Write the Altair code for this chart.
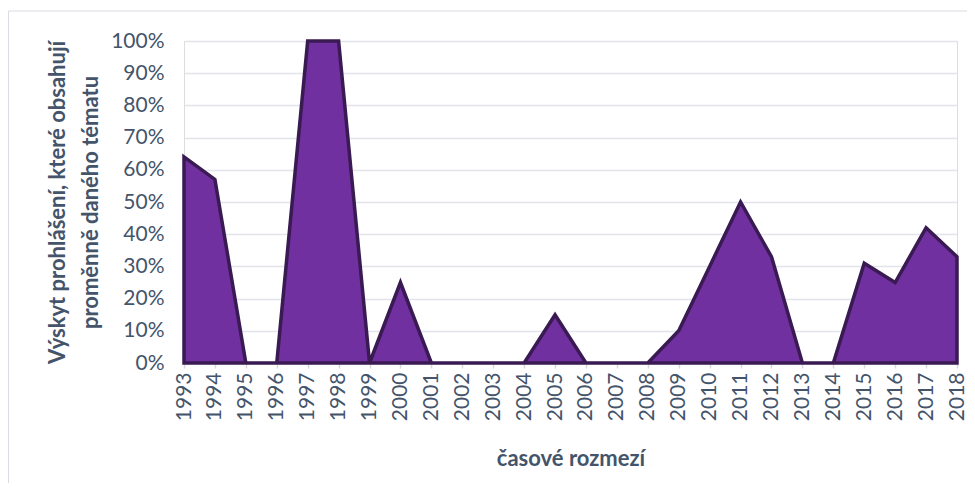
import altair as alt
import pandas as pd

years = list(range(1993, 2019))
shares = [0.64, 0.57, 0.0, 0.0, 1.0, 1.0, 0.0, 0.25, 0.0, 0.0, 0.0, 0.0, 0.15,
          0.0, 0.0, 0.0, 0.10, 0.30, 0.50, 0.33, 0.0, 0.0, 0.31, 0.25, 0.42, 0.33]
y_ticks = [i / 10 for i in range(11)]

df = pd.DataFrame({"rok": years, "podil": shares})

FONT = "Lato"
TXT = "#44546A"

area = alt.Chart(df).mark_area(
    color="#7030A0", stroke="#3A1A52", strokeWidth=3.5, strokeJoin="miter", opacity=1
).encode(
    x=alt.X("rok:Q", scale=alt.Scale(domain=[1993, 2018], nice=False, zero=False),
            axis=alt.Axis(values=years, format="d", labelAngle=270, labelAlign="right",
                          labelBaseline="middle", labelPadding=4, tickSize=5,
                          tickColor="#D9D9D9", tickWidth=1.5, domainColor="#D9D9D9",
                          labelFontSize=21, labelColor=TXT, labelFont=FONT, grid=False,
                          title="časové rozmezí", titleFontSize=22, titleFont=FONT,
                          titleFontWeight="bold", titleColor=TXT, titleY=95,
                          titleBaseline="middle", titleAnchor="middle")),
    y=alt.Y("podil:Q", scale=alt.Scale(domain=[0, 1], nice=False),
            axis=alt.Axis(values=y_ticks, format=".0%", ticks=False, domain=False,
                          labelPadding=20, labelFontSize=21, labelColor=TXT, labelFont=FONT,
                          gridColor="#E1E4EA", gridWidth=1.5,
                          title=["Výskyt prohlášení, které obsahují", "proměnně daného tématu"],
                          titleFontSize=22, titleFont=FONT, titleFontWeight="bold",
                          titleColor=TXT, titleAngle=270, titleX=-127, titleY=161,
                          titleAlign="center", titleBaseline="middle", titleLineHeight=33)),
)

border = alt.Chart(pd.DataFrame({"a": [0]})).mark_rect(
    fill=None, stroke="#D9DCE3", strokeWidth=1
).encode(x=alt.value(-175.5), x2=alt.value(820), y=alt.value(-30), y2=alt.value(480))

chart = alt.layer(border, area).properties(
    width=773, height=322,
    autosize=alt.AutoSizeParams(type="none"),
    padding={"left": 176, "top": 33, "right": 10, "bottom": 120},
).configure_view(stroke=None).configure(background="white")

chart.save("out.html", embed_options={"renderer": "svg", "actions": False})
